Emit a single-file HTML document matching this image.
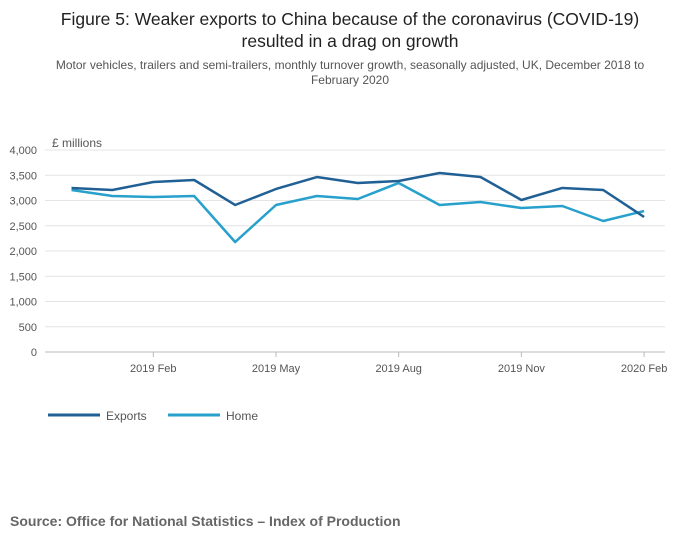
<!DOCTYPE html>
<html><head><meta charset="utf-8"><style>
body{margin:0;background:#fff;font-family:"Liberation Sans",sans-serif;}
#wrap{position:relative;width:700px;height:549px;overflow:hidden;}
</style></head><body>
<div id="wrap">
<div style="position:absolute;left:0;top:8px;width:700px;text-align:center;font-size:17.5px;color:#222;line-height:22px;">Figure 5: Weaker exports to China because of the coronavirus (COVID-19)<br>resulted in a drag on growth</div>
<div style="position:absolute;left:40px;top:58px;width:620px;text-align:center;font-size:12px;color:#555;line-height:15px;">Motor vehicles, trailers and semi-trailers, monthly turnover growth, seasonally adjusted, UK, December 2018 to February 2020</div>
<svg id="chart" width="700" height="549" style="position:absolute;left:0;top:0"></svg>
<div style="position:absolute;left:10px;top:513px;font-size:14px;font-weight:bold;color:#666;">Source: Office for National Statistics – Index of Production</div>
</div>
<script>
const months=["2018 Dec","2019 Jan","2019 Feb","2019 Mar","2019 Apr","2019 May","2019 Jun","2019 Jul","2019 Aug","2019 Sep","2019 Oct","2019 Nov","2019 Dec","2020 Jan","2020 Feb"];
const exportsVals=[3248,3208,3366,3406,2911,3228,3465,3347,3386,3545,3465,3010,3248,3208,2673];
const homeVals=[3208,3089,3069,3089,2178,2911,3089,3030,3347,2911,2970,2851,2891,2594,2792];
const yTicks=[0,500,1000,1500,2000,2500,3000,3500,4000];
const xTickIdx=[2,5,8,11,14];
const xTickLabels=["2019 Feb","2019 May","2019 Aug","2019 Nov","2020 Feb"];
const svg=document.getElementById('chart');const NS="http://www.w3.org/2000/svg";
function X(i){return 71.5+i*40.9;}
function Y(v){return 352-v*0.0505;}
function mk(t,a,p){const e=document.createElementNS(NS,t);for(const k in a)e.setAttribute(k,a[k]);(p||svg).appendChild(e);return e;}
yTicks.forEach(v=>{
 const l=mk('line',{x1:45,x2:665,y1:Y(v),y2:Y(v),stroke:v===0?'#bbb':'#e4e4e4','stroke-width':1});
 
 
 const t=mk('text',{x:37,y:Y(v)+4,'text-anchor':'end','font-size':11,fill:'#555','font-family':'Liberation Sans'});
 t.textContent=v.toLocaleString('en-GB');
 
 
});
const yt=mk('text',{x:52,y:147,'font-size':12,fill:'#555','font-family':'Liberation Sans'});yt.textContent="£ millions";


xTickIdx.forEach((i,k)=>{
 const l=mk('line',{x1:X(i),x2:X(i),y1:352,y2:357,stroke:'#bbb'});
 
 
 const t=mk('text',{x:X(i),y:372,'text-anchor':'middle','font-size':11,fill:'#555','font-family':'Liberation Sans'});
 t.textContent=xTickLabels[k];
 
 
});
function series(vals,col,name){
 const p=mk('polyline',{points:vals.map((v,i)=>X(i)+","+Y(v)).join(" "),fill:'none',stroke:col,'stroke-width':2.5,'stroke-linejoin':'round'});
 
 
}
series(homeVals,'#27a0cc','home-line');
series(exportsVals,'#206095','exports-line');
[[48,'#206095','Exports'],[168,'#27a0cc','Home']].forEach(([x,c,n])=>{
 const g=mk('g',{});
 
 
 mk('line',{x1:x,x2:x+52,y1:415,y2:415,stroke:c,'stroke-width':3},g);
 const t=mk('text',{x:x+58,y:420,'font-size':12,fill:'#555','font-family':'Liberation Sans'},g);t.textContent=n;
});
</script>
</body></html>
